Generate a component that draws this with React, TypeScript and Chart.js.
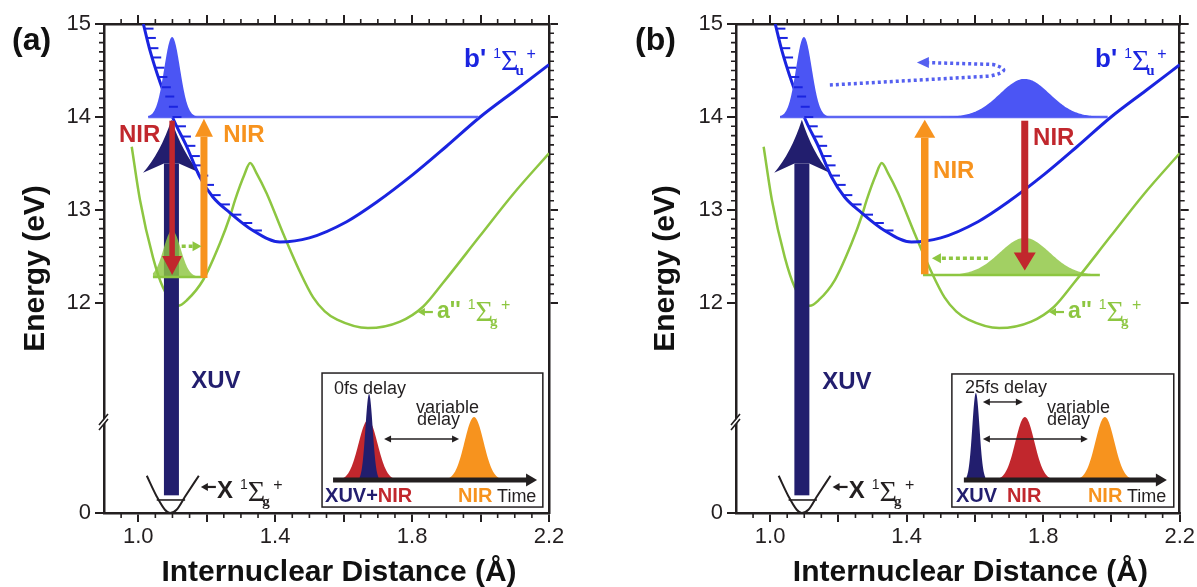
import React, { useEffect, useRef } from "react";
import { Chart, registerables } from "chart.js";

Chart.register(...registerables);

const SANS = "'Liberation Sans', Arial, Helvetica, sans-serif";
const SERIF = "'Liberation Serif', 'Times New Roman', serif";

// ---------- axis layout values (broken energy axis) ----------
const LOW_OFFSET = 9.742; // plotted value of 0 eV (below the axis break)
const BREAK_AT = 10.72; // plotted value of the "//" axis break
const X_MIN = 0.9;
const X_MAX = 2.2;
const Y_MAX = 15;

// ---------- data ----------
// b' 1Σu+ potential curve (Å, eV)
const bPrimeR = [1.015, 1.034, 1.064, 1.083, 1.1, 1.142, 1.18, 1.218, 1.268, 1.335, 1.414, 1.5, 1.609, 1.698, 1.804, 1.899, 1.998, 2.101, 2.2];
const bPrimeE = [15.0, 14.72, 14.37, 14.18, 14.0, 13.68, 13.355, 13.14, 12.97, 12.78, 12.656, 12.7, 12.874, 13.088, 13.385, 13.68, 13.997, 14.285, 14.562];

// a'' 1Σg+ double-well potential curve (Å, eV)
const aDoublePrimeR = [0.981, 1.005, 1.043, 1.072, 1.116, 1.142, 1.19, 1.239, 1.268, 1.283, 1.31, 1.327, 1.345, 1.375, 1.423, 1.473, 1.511, 1.545, 1.581, 1.671, 1.765, 1.832, 1.89, 1.998, 2.095, 2.2];
const aDoublePrimeE = [13.68, 13.11, 12.49, 12.17, 11.97, 12.03, 12.25, 12.645, 12.93, 13.11, 13.38, 13.505, 13.4, 13.18, 12.75, 12.33, 12.06, 11.91, 11.82, 11.73, 11.8, 11.96, 12.215, 12.72, 13.17, 13.61];

// X 1Σg+ ground state well (Å, eV above the ground-state minimum)
const xStateR = [1.025, 1.054, 1.078, 1.093, 1.112, 1.137, 1.177];
const xStateE = [0.4, 0.178, 0.035, 0.0, 0.035, 0.178, 0.4];
const xLevelE = 0.14;
const xLevelR = [1.054, 1.137];

// vibrational-level hatch energies on the b' repulsive wall (eV)
const hatchLevels = [14.95, 14.85, 14.74, 14.64, 14.53, 14.43, 14.32, 14.22, 14.11, 14.0, 13.9, 13.79, 13.69, 13.58, 13.48, 13.37, 13.27, 13.16, 13.06, 12.95, 12.86, 12.78];

// ticks
const xMajorTicks = [1.0, 1.2, 1.4, 1.6, 1.8, 2.0, 2.2];
const xLabeledTicks = [1.0, 1.4, 1.8, 2.2];
const yLeftTicks = [0, 12, 13, 14, 15];
const yRightTicks = [12, 13, 14, 15];

// ---------- colours ----------
const INK = "#231f20";
const BLUE = "#1a24e0";
const BLUE_WP = "#4b55f4";
const BLUE_LVL = "#5d66f3";
const GREEN = "#8dc641";
const GREEN_WP = "rgba(141,198,65,0.82)";
const NAVY = "#221e6e";
const RED = "#c1272d";
const ORANGE = "#f7931e";

const low = (e: number) => e + LOW_OFFSET;

// ---------- panel annotation settings (data units) ----------
const panelA: any = {
  label: "(a)",
  labelX: 12,
  canvasLeft: 0,
  canvasW: 610,
  leftW: 104,
  rightW: 61,
  levelLine: [1.029, 1.993],
  narrowBlue: { c: 1.099, base: 14, h: 0.86, s: 0.023, r0: 1.029, r1: 1.17 },
  wideBlue: null,
  green: { c: 1.099, base: 12.28, h: 0.5, s: 0.025, r0: 1.043, r1: 1.19 },
  greenDotted: { from: 1.127, to: 1.185, e: 12.61 },
  blueLoop: null,
  xuv: { r: 1.097, from: 0.19, tip: 13.97, base: 13.4, notch: 13.5, barb: 0.083 },
  red: { r: 1.099, from: 13.96, to: 12.3, sw: 5.5, hl: 19, hw: 20 },
  orange: { r: 1.192, from: 12.28, to: 13.98, sw: 7, hl: 18, hw: 18 },
  nirRed: [1.004, 13.8],
  nirOrange: [1.309, 13.8],
  xuvLabel: [1.227, 11.161],
  inset: {
    rL: 1.537, rR: 2.182, vTop: 11.247, vBottom: 9.806,
    axisY: 107, axisX0: 11, axisX1: 215,
    pulses: [
      { cx: 46, h: 60, s: 9.5, color: RED },
      { cx: 47, h: 86, s: 3.6, color: NAVY },
      { cx: 152, h: 63, s: 9.5, color: ORANGE },
    ],
    arrows: [{ x0: 62, x1: 137, y: 66 }],
    texts: [
      { x: 12, y: 21, parts: [{ t: "0fs delay", c: INK }] },
      { x: 94, y: 40, parts: [{ t: "variable", c: INK }] },
      { x: 95, y: 52, parts: [{ t: "delay", c: INK }] },
      { x: 3, y: 129, bold: true, parts: [{ t: "XUV+", c: NAVY }, { t: "NIR", c: RED }] },
      { x: 136, y: 129, bold: true, parts: [{ t: "NIR", c: ORANGE }] },
      { x: 175, y: 129, parts: [{ t: "Time", c: INK }] },
    ],
  },
};

const panelB: any = {
  label: "(b)",
  labelX: 5,
  canvasLeft: 630,
  canvasW: 567,
  leftW: 106,
  rightW: 17,
  levelLine: [1.029, 1.989],
  narrowBlue: { c: 1.099, base: 14, h: 0.86, s: 0.023, r0: 1.029, r1: 1.17 },
  wideBlue: { c: 1.746, base: 14, h: 0.41, s: 0.073, r0: 1.489, r1: 1.966 },
  green: { c: 1.746, base: 12.3, h: 0.4, s: 0.073, r0: 1.448, r1: 1.966 },
  greenDotted: { from: 1.638, to: 1.474, e: 12.48 },
  blueLoop: { start: [1.175, 14.344], turn0: [1.644, 14.44], ctrl: [1.72, 14.5], turn1: [1.652, 14.565], tip: [1.43, 14.585] },
  xuv: { r: 1.093, from: 0.19, tip: 13.97, base: 13.4, notch: 13.5, barb: 0.081 },
  red: { r: 1.746, from: 13.96, to: 12.35, sw: 7, hl: 18, hw: 22 },
  orange: { r: 1.453, from: 12.32, to: 13.97, sw: 7.5, hl: 18, hw: 21 },
  nirRed: [1.831, 13.77],
  nirOrange: [1.538, 13.41],
  xuvLabel: [1.225, 11.15],
  inset: {
    rL: 1.5325, rR: 2.1826, vTop: 11.237, vBottom: 9.806,
    axisY: 106, axisX0: 12, axisX1: 215,
    pulses: [
      { cx: 24, h: 87, s: 3.6, color: NAVY },
      { cx: 73, h: 63, s: 9.5, color: RED },
      { cx: 153, h: 63, s: 9.5, color: ORANGE },
    ],
    arrows: [{ x0: 31, x1: 71, y: 28 }, { x0: 31, x1: 136, y: 65 }],
    texts: [
      { x: 13, y: 19, parts: [{ t: "25fs delay", c: INK }] },
      { x: 95, y: 39, parts: [{ t: "variable", c: INK }] },
      { x: 95, y: 51, parts: [{ t: "delay", c: INK }] },
      { x: 4, y: 128, bold: true, parts: [{ t: "XUV", c: NAVY }] },
      { x: 55, y: 128, bold: true, parts: [{ t: "NIR", c: RED }] },
      { x: 136, y: 128, bold: true, parts: [{ t: "NIR", c: ORANGE }] },
      { x: 175, y: 128, parts: [{ t: "Time", c: INK }] },
    ],
  },
};

// common label anchors (data units)
const bPrimeLabel = { r: 1.952, e: 14.54 };
const aLabel = { arrowR: 1.817, arrowE: 11.903, r: 1.873, e: 11.839 };
const xLabel = { arrowR: 1.183, arrowE: 0.28, r: 1.23, e: 0.16 };

// ---------- helpers ----------
function leftBranchR(e: number): number {
  for (let i = 0; i < bPrimeR.length - 1; i++) {
    const e0 = bPrimeE[i];
    const e1 = bPrimeE[i + 1];
    if (e1 > e0) break;
    if (e <= e0 && e >= e1) {
      const t = (e0 - e) / (e0 - e1);
      return bPrimeR[i] + t * (bPrimeR[i + 1] - bPrimeR[i]);
    }
  }
  return NaN;
}

function arrowV(ctx: CanvasRenderingContext2D, x: number, y0: number, y1: number, sw: number, hl: number, hw: number, color: string) {
  const dir = y1 > y0 ? 1 : -1;
  const yb = y1 - dir * hl;
  ctx.fillStyle = color;
  ctx.fillRect(x - sw / 2, Math.min(y0, yb), sw, Math.abs(yb - y0) + 1);
  ctx.beginPath();
  ctx.moveTo(x, y1);
  ctx.lineTo(x + hw / 2, yb);
  ctx.lineTo(x - hw / 2, yb);
  ctx.closePath();
  ctx.fill();
}

function headH(ctx: CanvasRenderingContext2D, xTip: number, y: number, dir: number, hl: number, hw: number, color: string) {
  ctx.fillStyle = color;
  ctx.beginPath();
  ctx.moveTo(xTip, y);
  ctx.lineTo(xTip - dir * hl, y - hw / 2);
  ctx.lineTo(xTip - dir * hl, y + hw / 2);
  ctx.closePath();
  ctx.fill();
}

function dottedArrowH(ctx: CanvasRenderingContext2D, x0: number, x1: number, y: number, color: string) {
  const dir = x1 > x0 ? 1 : -1;
  const hl = 9;
  ctx.save();
  ctx.strokeStyle = color;
  ctx.lineWidth = 3.5;
  ctx.setLineDash([4, 3]);
  ctx.beginPath();
  ctx.moveTo(x0, y);
  ctx.lineTo(x1 - dir * hl, y);
  ctx.stroke();
  ctx.restore();
  headH(ctx, x1, y, dir, hl, 10, color);
}

function smallArrowLeft(ctx: CanvasRenderingContext2D, xTip: number, y: number, color: string) {
  ctx.save();
  ctx.strokeStyle = color;
  ctx.lineWidth = 2.2;
  ctx.beginPath();
  ctx.moveTo(xTip + 5, y);
  ctx.lineTo(xTip + 15, y);
  ctx.stroke();
  ctx.restore();
  headH(ctx, xTip, y, -1, 7, 8, color);
}

function drawTerm(ctx: CanvasRenderingContext2D, x: number, y: number, main: string, sub: string, color: string, size: number) {
  ctx.save();
  ctx.fillStyle = color;
  ctx.textAlign = "left";
  ctx.textBaseline = "alphabetic";
  ctx.font = `bold ${size}px ${SANS}`;
  ctx.fillText(main, x, y);
  let cx = x + ctx.measureText(main).width + 7;
  ctx.font = `14px ${SANS}`;
  ctx.fillText("1", cx, y - 9);
  cx += ctx.measureText("1").width;
  ctx.font = `30px ${SERIF}`;
  ctx.fillText("\u03A3", cx, y + 3);
  const sw = ctx.measureText("\u03A3").width;
  ctx.font = `bold 15px ${SERIF}`;
  ctx.fillText(sub, cx + sw - 3, y + 8);
  ctx.font = `16px ${SANS}`;
  ctx.fillText("+", cx + sw + 8, y - 8);
  ctx.restore();
}

function fillPacket(chart: any, p: any, color: string) {
  const { ctx } = chart;
  const X = chart.scales.x;
  const Y = chart.scales.y;
  const n = 140;
  ctx.beginPath();
  ctx.moveTo(X.getPixelForValue(p.r0), Y.getPixelForValue(p.base));
  for (let i = 0; i <= n; i++) {
    const r = p.r0 + ((p.r1 - p.r0) * i) / n;
    const e = p.base + p.h * Math.exp(-0.5 * ((r - p.c) / p.s) ** 2);
    ctx.lineTo(X.getPixelForValue(r), Y.getPixelForValue(e));
  }
  ctx.lineTo(X.getPixelForValue(p.r1), Y.getPixelForValue(p.base));
  ctx.closePath();
  ctx.fillStyle = color;
  ctx.fill();
}

function hLine(chart: any, r0: number, r1: number, e: number, color: string, lw: number) {
  const { ctx } = chart;
  const X = chart.scales.x;
  const Y = chart.scales.y;
  ctx.save();
  ctx.strokeStyle = color;
  ctx.lineWidth = lw;
  ctx.beginPath();
  ctx.moveTo(X.getPixelForValue(r0), Y.getPixelForValue(e));
  ctx.lineTo(X.getPixelForValue(r1), Y.getPixelForValue(e));
  ctx.stroke();
  ctx.restore();
}

function drawXuv(chart: any, c: any) {
  const { ctx } = chart;
  const X = chart.scales.x;
  const Y = chart.scales.y;
  const x = X.getPixelForValue(c.r);
  const yBot = Y.getPixelForValue(low(c.from));
  const yTip = Y.getPixelForValue(c.tip);
  const yBase = Y.getPixelForValue(c.base);
  const yNotch = Y.getPixelForValue(c.notch);
  const half = 7.5;
  const xl = X.getPixelForValue(c.r - c.barb);
  const xr = X.getPixelForValue(c.r + c.barb);
  ctx.save();
  ctx.fillStyle = NAVY;
  ctx.fillRect(x - half, yNotch, 2 * half, yBot - yNotch);
  ctx.beginPath();
  ctx.moveTo(x, yTip);
  ctx.quadraticCurveTo(x + (xr - x) * 0.38, yTip + (yBase - yTip) * 0.62, xr, yBase);
  ctx.lineTo(x + half, yNotch);
  ctx.lineTo(x - half, yNotch);
  ctx.lineTo(xl, yBase);
  ctx.quadraticCurveTo(x - (x - xl) * 0.38, yTip + (yBase - yTip) * 0.62, x, yTip);
  ctx.closePath();
  ctx.fill();
  ctx.restore();
}

function drawInset(chart: any, ins: any) {
  const { ctx } = chart;
  const X = chart.scales.x;
  const Y = chart.scales.y;
  const x0 = X.getPixelForValue(ins.rL);
  const x1 = X.getPixelForValue(ins.rR);
  const y0 = Y.getPixelForValue(ins.vTop);
  const y1 = Y.getPixelForValue(ins.vBottom);
  ctx.save();
  ctx.fillStyle = "#fff";
  ctx.fillRect(x0, y0, x1 - x0, y1 - y0);
  ctx.strokeStyle = INK;
  ctx.lineWidth = 1.5;
  ctx.strokeRect(x0, y0, x1 - x0, y1 - y0);

  const ay = y0 + ins.axisY;
  for (const p of ins.pulses) {
    const cx = x0 + p.cx;
    ctx.beginPath();
    const a = cx - 2.6 * p.s;
    const b = cx + 2.6 * p.s;
    ctx.moveTo(a, ay);
    for (let i = 0; i <= 60; i++) {
      const xx = a + ((b - a) * i) / 60;
      const yy = ay - p.h * Math.exp(-0.5 * ((xx - cx) / p.s) ** 2);
      ctx.lineTo(xx, yy);
    }
    ctx.lineTo(b, ay);
    ctx.closePath();
    ctx.fillStyle = p.color;
    ctx.fill();
  }
  // time axis
  ctx.strokeStyle = INK;
  ctx.lineWidth = 5;
  ctx.beginPath();
  ctx.moveTo(x0 + ins.axisX0, ay);
  ctx.lineTo(x0 + ins.axisX1 - 9, ay);
  ctx.stroke();
  headH(ctx, x0 + ins.axisX1, ay, 1, 11, 13, INK);
  // double arrows
  for (const ar of ins.arrows) {
    const ya = y0 + ar.y;
    const xa = x0 + ar.x0;
    const xb = x0 + ar.x1;
    ctx.strokeStyle = INK;
    ctx.lineWidth = 1.4;
    ctx.beginPath();
    ctx.moveTo(xa + 5, ya);
    ctx.lineTo(xb - 5, ya);
    ctx.stroke();
    headH(ctx, xa, ya, -1, 7, 7, INK);
    headH(ctx, xb, ya, 1, 7, 7, INK);
  }
  // texts
  ctx.textAlign = "left";
  ctx.textBaseline = "alphabetic";
  for (const t of ins.texts) {
    ctx.font = t.bold ? `bold 20px ${SANS}` : `18px ${SANS}`;
    let cx = x0 + t.x;
    for (const part of t.parts) {
      ctx.fillStyle = part.c;
      ctx.fillText(part.t, cx, y0 + t.y);
      cx += ctx.measureText(part.t).width;
    }
  }
  ctx.restore();
}

function makeDecor(cfg: any) {
  return {
    id: "decor",
    beforeDatasetDraw(chart: any, args: any) {
      if (args.index === 0) drawXuv(chart, cfg.xuv);
    },
    afterDatasetsDraw(chart: any) {
      const { ctx } = chart;
      const X = chart.scales.x;
      const Y = chart.scales.y;
      const px = (r: number) => X.getPixelForValue(r);
      const py = (e: number) => Y.getPixelForValue(e);

      // b' level at 14 eV and packets
      hLine(chart, cfg.levelLine[0], cfg.levelLine[1], 14, BLUE_LVL, 2.5);
      fillPacket(chart, cfg.narrowBlue, BLUE_WP);
      if (cfg.wideBlue) fillPacket(chart, cfg.wideBlue, BLUE_WP);

      // a'' packet
      hLine(chart, cfg.green.r0, cfg.green.r1, cfg.green.base, GREEN, 2.5);
      fillPacket(chart, cfg.green, GREEN_WP);

      // hatches on the repulsive wall
      ctx.save();
      ctx.strokeStyle = BLUE;
      ctx.lineWidth = 2;
      for (const e of hatchLevels) {
        const r = leftBranchR(e);
        if (isNaN(r)) continue;
        const x = px(r);
        const y = py(e);
        ctx.beginPath();
        ctx.moveTo(x, y);
        ctx.lineTo(x + 9, y);
        ctx.stroke();
      }
      ctx.restore();

      // NIR arrows
      arrowV(ctx, px(cfg.red.r), py(cfg.red.from), py(cfg.red.to), cfg.red.sw, cfg.red.hl, cfg.red.hw, RED);
      arrowV(ctx, px(cfg.orange.r), py(cfg.orange.from), py(cfg.orange.to), cfg.orange.sw, cfg.orange.hl, cfg.orange.hw, ORANGE);

      // dotted arrows
      dottedArrowH(ctx, px(cfg.greenDotted.from), px(cfg.greenDotted.to), py(cfg.greenDotted.e), GREEN);
      if (cfg.blueLoop) {
        const L = cfg.blueLoop;
        const tipX = px(L.tip[0]);
        const tipY = py(L.tip[1]);
        ctx.save();
        ctx.strokeStyle = "#5560f0";
        ctx.lineWidth = 3.5;
        ctx.setLineDash([3, 3]);
        ctx.beginPath();
        ctx.moveTo(px(L.start[0]), py(L.start[1]));
        ctx.lineTo(px(L.turn0[0]), py(L.turn0[1]));
        ctx.quadraticCurveTo(px(L.ctrl[0]), py(L.ctrl[1]), px(L.turn1[0]), py(L.turn1[1]));
        ctx.lineTo(tipX + 11, tipY);
        ctx.stroke();
        ctx.restore();
        headH(ctx, tipX, tipY, -1, 12, 11, "#5560f0");
      }

      // ground state level line
      hLine(chart, xLevelR[0], xLevelR[1], low(xLevelE), INK, 1.6);

      // text labels
      ctx.save();
      ctx.textAlign = "center";
      ctx.textBaseline = "middle";
      ctx.font = `bold 24px ${SANS}`;
      ctx.fillStyle = RED;
      ctx.fillText("NIR", px(cfg.nirRed[0]), py(cfg.nirRed[1]));
      ctx.fillStyle = ORANGE;
      ctx.fillText("NIR", px(cfg.nirOrange[0]), py(cfg.nirOrange[1]));
      ctx.fillStyle = NAVY;
      ctx.fillText("XUV", px(cfg.xuvLabel[0]), py(cfg.xuvLabel[1]));
      ctx.restore();

      drawTerm(ctx, px(bPrimeLabel.r), py(bPrimeLabel.e), "b'", "u", BLUE, 26);
      smallArrowLeft(ctx, px(aLabel.arrowR), py(aLabel.arrowE), GREEN);
      drawTerm(ctx, px(aLabel.r), py(aLabel.e), "a''", "g", GREEN, 23);
      smallArrowLeft(ctx, px(xLabel.arrowR), py(low(xLabel.arrowE)), INK);
      drawTerm(ctx, px(xLabel.r), py(low(xLabel.e)), "X", "g", INK, 24);

      drawInset(chart, cfg.inset);
    },
    afterDraw(chart: any) {
      const { ctx, chartArea } = chart;
      const X = chart.scales.x;
      const Y = chart.scales.y;
      ctx.save();
      ctx.strokeStyle = INK;
      ctx.lineWidth = 1.6;
      ctx.beginPath();
      // minor energy ticks (12–15 eV segment)
      for (let k = 121; k < 150; k++) {
        if (k % 10 === 0) continue;
        const y = Y.getPixelForValue(k / 10);
        ctx.moveTo(chartArea.left, y);
        ctx.lineTo(chartArea.left - 5, y);
        ctx.moveTo(chartArea.right, y);
        ctx.lineTo(chartArea.right + 5, y);
      }
      // minor distance ticks
      for (let k = 19; k < 44; k++) {
        if ((k - 20) % 4 === 0) continue;
        const x = X.getPixelForValue(k * 0.05);
        ctx.moveTo(x, chartArea.top);
        ctx.lineTo(x, chartArea.top - 5);
        ctx.moveTo(x, chartArea.bottom);
        ctx.lineTo(x, chartArea.bottom + 5);
      }
      ctx.stroke();
      // axis break "//"
      const yb = Y.getPixelForValue(BREAK_AT);
      const xa = chartArea.left;
      ctx.fillStyle = "#fff";
      ctx.beginPath();
      ctx.moveTo(xa - 4, yb + 3);
      ctx.lineTo(xa + 4, yb - 7);
      ctx.lineTo(xa + 4, yb - 3);
      ctx.lineTo(xa - 4, yb + 7);
      ctx.closePath();
      ctx.fill();
      ctx.lineWidth = 1.6;
      ctx.beginPath();
      ctx.moveTo(xa - 5, yb + 3);
      ctx.lineTo(xa + 4, yb - 8);
      ctx.moveTo(xa - 5, yb + 8);
      ctx.lineTo(xa + 4, yb - 3);
      ctx.stroke();
      // panel label
      ctx.fillStyle = "#111";
      ctx.font = `bold 32px ${SANS}`;
      ctx.textAlign = "left";
      ctx.textBaseline = "middle";
      ctx.fillText(cfg.label, cfg.labelX, 41);
      ctx.restore();
    },
  };
}

function buildConfig(cfg: any): any {
  const tickFont = { family: SANS, size: 22 };
  const titleFont = { family: SANS, size: 30, weight: "bold" };
  const grid = { drawOnChartArea: false, drawTicks: true, tickLength: 9, color: INK, lineWidth: 2 };
  const border = { display: true, color: INK, width: 2.5 };
  const xMajor = (s: any) => {
    s.ticks = xMajorTicks.map((v) => ({ value: v }));
  };
  return {
    type: "line",
    data: {
      datasets: [
        {
          label: "b' 1Σu+",
          data: bPrimeR.map((r, i) => ({ x: r, y: bPrimeE[i] })),
          borderColor: BLUE,
          borderWidth: 3,
          cubicInterpolationMode: "monotone",
          pointRadius: 0,
          xAxisID: "x",
          yAxisID: "y",
        },
        {
          label: "a'' 1Σg+",
          data: aDoublePrimeR.map((r, i) => ({ x: r, y: aDoublePrimeE[i] })),
          borderColor: GREEN,
          borderWidth: 2.5,
          cubicInterpolationMode: "monotone",
          pointRadius: 0,
          xAxisID: "x",
          yAxisID: "y",
        },
        {
          label: "X 1Σg+",
          data: xStateR.map((r, i) => ({ x: r, y: low(xStateE[i]) })),
          borderColor: INK,
          borderWidth: 2,
          cubicInterpolationMode: "monotone",
          pointRadius: 0,
          xAxisID: "x",
          yAxisID: "y",
        },
      ],
    },
    options: {
      responsive: false,
      animation: false,
      events: [],
      layout: { padding: 0 },
      plugins: { legend: { display: false }, tooltip: { enabled: false } },
      scales: {
        x: {
          type: "linear",
          position: "bottom",
          min: X_MIN,
          max: X_MAX,
          afterBuildTicks: xMajor,
          afterFit: (s: any) => {
            s.height = 74;
          },
          ticks: {
            autoSkip: false,
            maxRotation: 0,
            padding: 2,
            font: tickFont,
            color: INK,
            callback: (v: number) => {
              const hit = xLabeledTicks.find((t) => Math.abs(t - v) < 1e-6);
              return hit !== undefined ? hit.toFixed(1) : "";
            },
          },
          grid,
          border,
          title: {
            display: true,
            text: "   Internuclear Distance (Å)",
            font: titleFont,
            color: "#111",
            padding: { top: 0, bottom: -4 },
          },
        },
        x2: {
          type: "linear",
          position: "top",
          min: X_MIN,
          max: X_MAX,
          afterBuildTicks: xMajor,
          afterFit: (s: any) => {
            s.height = 24;
          },
          ticks: { display: false },
          grid,
          border,
        },
        y: {
          type: "linear",
          position: "left",
          min: LOW_OFFSET,
          max: Y_MAX,
          afterBuildTicks: (s: any) => {
            s.ticks = yLeftTicks.map((v) => ({ value: v === 0 ? LOW_OFFSET : v }));
          },
          afterFit: (s: any) => {
            s.width = cfg.leftW;
          },
          ticks: {
            padding: 4,
            font: tickFont,
            color: INK,
            callback: (v: number) => (Math.abs(v - LOW_OFFSET) < 1e-6 ? "0" : String(Math.round(v))),
          },
          grid,
          border,
          title: {
            display: true,
            text: "Energy (eV)",
            font: titleFont,
            color: "#111",
            padding: { top: 18, bottom: 0 },
          },
        },
        y2: {
          type: "linear",
          position: "right",
          min: LOW_OFFSET,
          max: Y_MAX,
          afterBuildTicks: (s: any) => {
            s.ticks = yRightTicks.map((v) => ({ value: v }));
          },
          afterFit: (s: any) => {
            s.width = cfg.rightW;
          },
          ticks: { display: false },
          grid,
          border,
        },
      },
    },
    plugins: [makeDecor(cfg)],
  };
}

function Panel({ cfg }: { cfg: any }) {
  const ref = useRef<HTMLCanvasElement>(null);
  useEffect(() => {
    if (!ref.current) return;
    const chart = new Chart(ref.current, buildConfig(cfg));
    return () => chart.destroy();
  }, [cfg]);
  return (
    <canvas
      ref={ref}
      width={cfg.canvasW}
      height={587}
      style={{ position: "absolute", left: cfg.canvasLeft, top: 0, width: cfg.canvasW, height: 587 }}
    />
  );
}

export default function App() {
  return (
    <div style={{ position: "absolute", left: 0, top: 0, width: 1197, height: 587, background: "#fff", overflow: "hidden" }}>
      <Panel cfg={panelA} />
      <Panel cfg={panelB} />
    </div>
  );
}
